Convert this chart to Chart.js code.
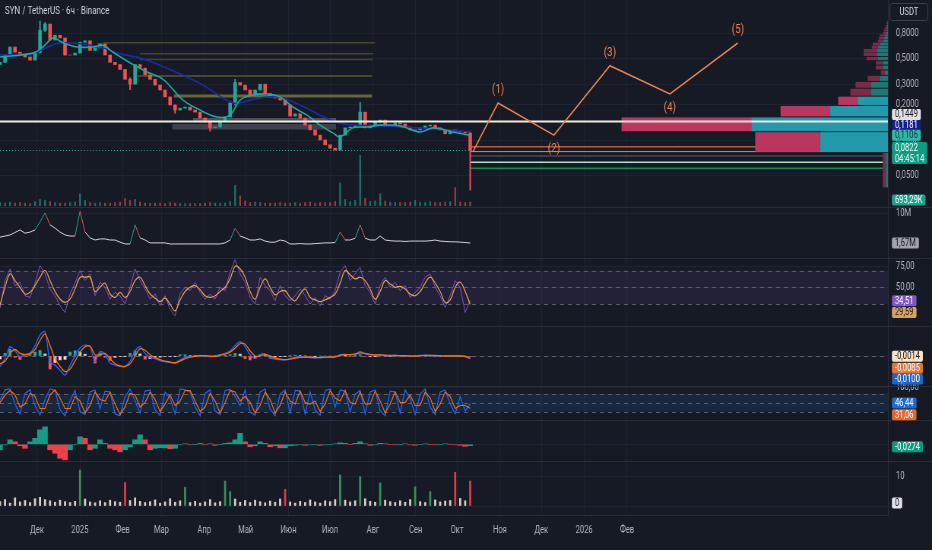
<!DOCTYPE html>
<html>
<head>
<meta charset="utf-8">
<title>SYN / TetherUS</title>
<script src="https://cdn.jsdelivr.net/npm/chart.js@4.4.1/dist/chart.umd.min.js"></script>
<style>
  html, body { margin: 0; padding: 0; background: #161a25; overflow: hidden; }
  #chart { display: block; }
</style>
</head>
<body>
<canvas id="chart" width="1226" height="550" style="width:932px;height:550px"></canvas>
<script>
// SYN / TetherUS, 6h, Binance. One sample every ~3.6 days.
// x values are days counted from 1 Dec 2024.
const monthDays = [0, 31, 62, 90, 121, 151, 182, 212, 243, 274, 304, 335, 365, 396, 427];
const monthLabels = ['Дек', '2025', 'Фев', 'Мар', 'Апр', 'Май', 'Июн', 'Июл', 'Авг', 'Сен', 'Окт', 'Ноя', 'Дек', '2026', 'Фев'];
const priceTicks = [0.05, 0.1, 0.2, 0.3, 0.5, 0.8];

const firstOpen = 0.44;
const closes = [
  0.46, 0.53, 0.62, 0.56, 0.53, 0.51, 0.48, 0.56, 0.86, 0.97,
  0.71, 0.78, 0.74, 0.53, 0.53, 0.55, 0.68, 0.70, 0.58, 0.61,
  0.66, 0.53, 0.46, 0.44, 0.40, 0.33, 0.30, 0.44, 0.41, 0.36,
  0.33, 0.295, 0.268, 0.234, 0.20, 0.181, 0.188, 0.192, 0.181, 0.174,
  0.155, 0.143, 0.128, 0.130, 0.146, 0.158, 0.208, 0.31, 0.295, 0.268,
  0.243, 0.268, 0.30, 0.25, 0.234, 0.229, 0.22, 0.20, 0.161, 0.168,
  0.155, 0.135, 0.123, 0.111, 0.101, 0.092, 0.086, 0.083, 0.111, 0.128,
  0.130, 0.135, 0.174, 0.128, 0.135, 0.143, 0.149, 0.135, 0.135, 0.141,
  0.138, 0.130, 0.123, 0.123, 0.128, 0.133, 0.135, 0.128, 0.123, 0.114,
  0.123, 0.120, 0.118, 0.116, 0.0822
];
// wicks only where they stand out
const wickIdx = [8, 9, 26, 35, 42, 47, 72, 94];
const wickLow = [0.55, 0.84, 0.27, 0.17, 0.12, 0.20, 0.13, 0.038];
const wickHigh = [1.03, 1.00, 0.34, 0.20, 0.145, 0.33, 0.21, 0.118];

const volumes = [ // M
  0.6, 0.5, 0.7, 0.5, 0.6, 0.5, 0.4, 0.8, 1.2, 1.0,
  0.8, 0.6, 0.5, 0.5, 0.6, 0.7, 2.3, 1.0, 0.6, 0.5,
  0.6, 0.5, 0.5, 0.6, 0.7, 1.4, 1.0, 1.2, 0.7, 0.5,
  0.5, 0.5, 0.5, 0.4, 0.6, 0.5, 0.4, 0.4, 0.4, 0.4,
  0.4, 0.5, 0.6, 0.5, 0.5, 0.5, 0.8, 3.9, 1.9, 0.9,
  0.6, 0.7, 0.6, 0.5, 0.5, 0.5, 0.6, 0.5, 0.5, 0.6,
  0.5, 0.6, 0.7, 0.5, 0.6, 0.6, 0.6, 0.8, 4.4, 1.2,
  0.8, 1.0, 9.7, 1.4, 0.8, 0.9, 2.3, 0.9, 0.7, 0.6,
  0.6, 0.6, 0.7, 1.0, 0.7, 0.6, 0.8, 0.6, 0.6, 0.7,
  0.8, 3.5, 0.7, 0.6, 0.69329
];

const tealDays = [-26.8, -2.9, 4.3, 11.6, 18.1, 28.9, 40.5, 47.8, 55.0, 69.5, 79.6, 91.2, 105.7, 117.9, 130.2, 139.7, 146.9,
  156.3, 166.4, 175.8, 185.2, 195.4, 204.8, 214.2, 219.3, 228.7, 238.8, 248.2, 262.7, 277.1, 286.5, 301.0, 313.3];
const tealVals = [0.51, 0.55, 0.62, 0.74, 0.68, 0.62, 0.62, 0.64, 0.56, 0.44, 0.38, 0.33, 0.22, 0.181, 0.158, 0.164, 0.22,
  0.243, 0.248, 0.234, 0.192, 0.164, 0.135, 0.116, 0.107, 0.128, 0.130, 0.135, 0.133, 0.118, 0.128, 0.118, 0.1106];
const blueDays = [-26.8, -2.9, 16.6, 45.6, 57.9, 74.5, 94.1, 117.9, 141.9, 154.1, 166.4, 178.0, 190.3, 204.8, 217.1, 228.7,
  250.4, 275.0, 298.8, 314.8];
const blueVals = [0.53, 0.55, 0.67, 0.62, 0.55, 0.50, 0.41, 0.305, 0.208, 0.22, 0.234, 0.229, 0.20, 0.164, 0.143, 0.135,
  0.133, 0.128, 0.123, 0.1181];

const keyLevel = 0.1449;
const targetLevels = [0.0886, 0.0805, 0.0739, 0.0653, 0.0581];
const oliveLevels = [0.674, 0.544, 0.487, 0.352, 0.238];
const oliveFrom = [47.8, 74.5, 74.5, 72.4, 99.1];
const oliveTo = [244.6, 243.0, 243.0, 242.4, 242.4];
const zoneHigh = [0.155, 0.138];
const zoneLow = [0.143, 0.124];
const zoneFrom = [112.9, 97.7];
const zoneTo = [216.4, 216.4];

const waveDays = [315.5, 333.6, 374.1, 414.6, 458.0, 507.2];
const wavePrices = [0.0805, 0.208, 0.111, 0.43, 0.248, 0.67];
const waveLabels = ['', '(1)', '(2)', '(3)', '(4)', '(5)'];

// volume profile, bins of 0.04 USDT from 0.04 up
const vpStart = 0.04;
const vpStep = 0.04;
const vpUp = [2, 67, 135, 57, 30, 17, 17, 8, 3, 5, 5, 10, 11, 11, 10, 8, 5, 4, 3, 2, 1, 1, 1, 0.5, 0.5];
const vpDown = [3, 64, 128, 49, 19, 20, 15, 12, 4, 7, 7, 11, 13, 13, 6, 7, 5, 5, 5, 3, 3, 2, 1, 1, 0.5];
const vpValueLow = 0.08;
const vpValueHigh = 0.24;

const flow = [ // M
  3.3, 3.6, 3.9, 4.6, 5.3, 4.4, 4.7, 5.3, 7.5, 10.0,
  6.7, 5.8, 4.7, 3.9, 3.6, 3.6, 10.5, 4.7, 3.1, 2.5,
  2.8, 2.8, 2.5, 2.5, 1.9, 1.4, 1.4, 6.7, 3.1, 2.5,
  1.7, 1.7, 1.7, 1.7, 1.4, 1.4, 1.4, 1.4, 1.4, 1.4,
  1.4, 1.4, 1.4, 1.4, 1.4, 1.7, 2.5, 5.8, 3.6, 3.1,
  2.5, 2.5, 2.8, 2.2, 1.9, 1.9, 2.5, 2.2, 1.4, 1.4,
  1.5, 1.4, 1.4, 1.5, 1.6, 1.7, 1.7, 1.8, 4.7, 2.5,
  2.5, 3.0, 6.7, 3.0, 2.5, 2.5, 3.6, 2.5, 2.3, 2.2,
  2.2, 2.1, 2.2, 2.2, 2.2, 2.2, 2.3, 2.5, 2.2, 2.1,
  2.0, 2.0, 1.9, 1.8, 1.67
];

const rsi = [
  25, 58, 72, 52, 56, 40, 38, 55, 76, 66,
  48, 40, 28, 20, 42, 55, 70, 58, 66, 40,
  56, 50, 36, 44, 40, 30, 50, 72, 58, 48,
  36, 42, 28, 40, 24, 16, 42, 50, 46, 56,
  44, 36, 42, 36, 50, 46, 68, 83, 66, 56,
  38, 30, 62, 52, 46, 34, 52, 40, 34, 40,
  48, 40, 30, 38, 28, 40, 36, 46, 68, 76,
  58, 66, 74, 52, 44, 30, 52, 62, 50, 56,
  46, 52, 38, 44, 50, 62, 66, 50, 40, 26,
  40, 58, 50, 20, 34.51
];
const rsiMa = [
  29, 50, 66, 58, 50, 42, 44, 52, 62, 70,
  58, 45, 36, 32, 36, 48, 62, 62, 62, 45,
  50, 55, 42, 38, 44, 38, 45, 58, 62, 52,
  42, 37, 33, 37, 30, 22, 35, 45, 50, 52,
  47, 40, 38, 40, 45, 50, 60, 75, 72, 62,
  45, 36, 50, 60, 50, 41, 45, 46, 38, 34,
  42, 48, 38, 35, 33, 35, 38, 42, 55, 70,
  65, 60, 62, 58, 48, 36, 45, 58, 54, 50,
  51, 48, 42, 40, 45, 55, 62, 55, 45, 32,
  35, 50, 56, 45, 29.59
];

const macd = [
  -0.041, -0.010, 0.036, 0.020, -0.003, 0.005, 0.012, 0.040, 0.081, 0.093,
  -0.022, -0.035, -0.055, -0.073, -0.035, 0.000, 0.031, 0.042, 0.035, -0.022,
  0.017, 0.005, -0.027, -0.035, -0.040, -0.041, -0.020, 0.020, 0.036, 0.010,
  -0.005, -0.010, -0.018, -0.022, -0.025, -0.027, -0.015, -0.005, -0.002, 0.000,
  0.002, 0.000, -0.002, 0.000, 0.005, 0.010, 0.020, 0.040, 0.055, 0.035,
  0.005, -0.008, 0.005, 0.008, -0.008, -0.012, -0.014, -0.015, -0.010, -0.005,
  -0.003, -0.004, -0.006, -0.007, -0.006, -0.005, -0.004, -0.003, 0.005, 0.006,
  0.005, 0.008, 0.017, 0.008, 0.004, 0.003, 0.004, 0.002, 0.001, 0.002,
  0.001, 0.000, -0.001, 0.000, 0.002, 0.003, 0.002, 0.001, 0.000, -0.001,
  0.000, 0.001, 0.000, -0.002, -0.0100
];
const macdSignal = [
  -0.030, -0.020, 0.010, 0.025, 0.010, 0.005, 0.008, 0.025, 0.060, 0.085,
  0.040, -0.010, -0.040, -0.060, -0.050, -0.020, 0.015, 0.035, 0.038, 0.005,
  0.005, 0.010, -0.010, -0.030, -0.038, -0.040, -0.030, 0.000, 0.028, 0.022,
  0.005, -0.006, -0.014, -0.020, -0.023, -0.026, -0.020, -0.010, -0.004, -0.001,
  0.001, 0.001, -0.001, -0.001, 0.003, 0.007, 0.015, 0.030, 0.048, 0.045,
  0.020, 0.000, 0.000, 0.006, 0.000, -0.008, -0.012, -0.014, -0.012, -0.008,
  -0.005, -0.004, -0.005, -0.006, -0.006, -0.005, -0.004, -0.003, 0.002, 0.005,
  0.005, 0.007, 0.012, 0.010, 0.006, 0.004, 0.004, 0.003, 0.002, 0.002,
  0.001, 0.001, 0.000, 0.000, 0.001, 0.002, 0.002, 0.002, 0.001, 0.000,
  0.000, 0.000, 0.000, -0.001, -0.0085
];
const macdHist = [
  -0.011, 0.010, 0.026, -0.005, -0.013, 0.000, 0.004, 0.015, 0.021, 0.008,
  -0.050, -0.025, -0.015, -0.013, 0.015, 0.020, 0.016, 0.007, -0.003, -0.027,
  0.012, -0.005, -0.017, -0.005, -0.002, -0.001, 0.010, 0.020, 0.008, -0.012,
  -0.010, -0.004, -0.004, -0.002, -0.002, -0.001, 0.005, 0.005, 0.002, 0.001,
  0.001, -0.001, -0.001, 0.001, 0.002, 0.003, 0.005, 0.010, 0.007, -0.010,
  -0.015, -0.008, 0.005, 0.002, -0.008, -0.004, -0.002, -0.001, 0.002, 0.003,
  0.002, 0.000, -0.001, -0.001, 0.000, 0.000, 0.000, 0.000, 0.003, 0.001,
  0.000, 0.001, 0.005, -0.002, -0.002, -0.001, 0.000, -0.001, -0.001, 0.000,
  0.000, -0.001, -0.001, 0.000, 0.001, 0.001, 0.000, -0.001, -0.001, -0.001,
  0.000, 0.001, 0.000, -0.001, -0.0014
];

const stochK = [
  60, 92, 95, 45, 12, 80, 92, 40, 8, 60,
  95, 90, 25, 6, 55, 90, 20, 10, 85, 92,
  30, 88, 85, 12, 6, 70, 95, 55, 15, 88,
  92, 25, 8, 85, 65, 12, 95, 92, 85, 35,
  6, 80, 92, 22, 10, 90, 94, 70, 40, 92,
  18, 8, 85, 95, 28, 6, 78, 92, 15, 90,
  88, 12, 85, 25, 8, 90, 95, 35, 92, 88,
  18, 78, 90, 12, 85, 92, 22, 6, 88, 85,
  15, 92, 62, 10, 78, 95, 35, 10, 85, 92,
  45, 12, 70, 22, 46.44
];
const stochD = [
  50, 75, 90, 75, 35, 45, 80, 70, 30, 30,
  75, 92, 65, 30, 30, 70, 55, 15, 40, 85,
  60, 55, 85, 45, 10, 35, 80, 75, 35, 50,
  85, 60, 20, 45, 75, 40, 55, 90, 90, 55,
  20, 35, 80, 55, 15, 50, 90, 85, 55, 70,
  50, 15, 40, 85, 60, 15, 40, 85, 55, 45,
  88, 50, 45, 55, 20, 45, 90, 65, 55, 90,
  50, 45, 85, 45, 45, 88, 55, 15, 45, 85,
  50, 50, 75, 40, 40, 85, 65, 20, 45, 85,
  70, 30, 40, 40, 31.06
];

const momentum = [
  -0.11, -0.01, 0.09, 0.05, -0.03, -0.08, 0.05, 0.12, 0.29, 0.35,
  -0.11, -0.18, -0.28, -0.31, -0.11, -0.01, 0.15, 0.12, -0.11, -0.08,
  0.09, 0.02, -0.08, -0.11, -0.15, -0.11, -0.05, 0.09, 0.19, 0.09,
  -0.11, -0.08, -0.07, -0.07, -0.09, -0.08, -0.01, 0.01, -0.01, 0.00,
  0.02, -0.01, 0.01, -0.02, 0.00, 0.02, 0.03, 0.09, 0.22, 0.05,
  -0.05, -0.03, 0.05, 0.02, -0.05, -0.03, -0.07, -0.07, -0.03, -0.02,
  -0.01, -0.02, -0.01, 0.00, -0.02, -0.01, 0.00, 0.01, 0.03, 0.02,
  0.00, 0.02, 0.05, 0.01, -0.02, -0.01, 0.02, 0.01, 0.00, -0.01,
  0.00, 0.01, -0.01, -0.02, 0.00, 0.01, 0.00, -0.01, 0.00, 0.01,
  0.00, -0.01, -0.02, -0.04, -0.0274
];

const delta = [
  1.5, 2.2, 1.0, 2.8, 1.4, 1.9, 1.2, 2.5, 3.0, 2.2,
  1.8, 1.3, 2.0, 1.5, 1.2, 1.6, 12.4, 2.4, 1.4, 1.1,
  1.8, 1.2, 2.0, 1.5, 1.3, 8.1, 1.9, 2.8, 1.6, 1.2,
  1.5, 2.1, 1.0, 1.4, 2.5, 1.3, 1.8, 6.4, 1.2, 1.6,
  1.0, 1.4, 2.2, 1.1, 1.5, 8.6, 5.0, 2.4, 1.3, 1.9,
  1.2, 2.0, 1.5, 1.1, 1.7, 1.3, 2.4, 5.7, 1.4, 1.0,
  1.6, 1.2, 2.1, 1.4, 1.0, 1.8, 1.5, 2.2, 10.7, 2.0,
  1.4, 1.8, 10.1, 2.5, 1.6, 1.3, 7.9, 2.0, 1.5, 1.2,
  1.8, 1.3, 2.2, 6.6, 1.5, 1.2, 5.0, 2.1, 1.4, 1.7,
  1.9, 11.6, 2.6, 1.8, 8.6
];

// ---- layout / style ----
const SQUEEZE = 932 / 1226; // the reference is squashed horizontally, so draw wide and let CSS narrow it
const px = v => v / SQUEEZE;
const FAMILY = "Roboto, 'Noto Sans', 'DejaVu Sans', sans-serif";
const BG = '#161a25';
const GRID = '#1f2331';
const SEP = '#2a2e39';
const TEXT = '#b2b5be';
const UP = '#26a69a';
const DOWN = '#ef5350';
const WAVE = '#ef8354';
const KEY_LABEL = 'Уровень';

const T0 = -26.8;
const STEP = 3.62;
const X_MAX = 615.8;
const dayAt = i => T0 + i * STEP;
const onGrid = arr => arr.map((y, i) => ({x: dayAt(i), y}));
const pairUp = (xs, ys) => xs.map((x, i) => ({x, y: ys[i]}));
const last = closes.length - 1;
const lastDay = dayAt(last);
const fmtNum = (v, d) => v.toFixed(d).replace('.', ',');

const opens = closes.map((c, i) => i ? closes[i - 1] : firstOpen);
const isUp = closes.map((c, i) => c >= opens[i]);

function flat(label, from, to, value, color, width, order, extra) {
  return Object.assign({
    label, type: 'line', yAxisID: 'yPrice',
    data: [{x: from, y: value}, {x: to, y: value}],
    borderColor: color, borderWidth: width, pointRadius: 0, order
  }, extra || {});
}

const datasets = [];

// zones and old levels
zoneHigh.forEach((h, i) => datasets.push(flat('zone', zoneFrom[i], zoneTo[i], h, 'rgba(0,0,0,0)', 0, 9,
  {fill: {value: zoneLow[i]}, backgroundColor: i ? '#3d414d' : '#4a4e5a'})));
const oliveColors = ['#47452f', '#45442f', '#45442f', '#5a5834', '#67653a'];
const oliveWidths = [1.5, 1.5, 1.5, 1.5, 3];
oliveLevels.forEach((v, i) => datasets.push(flat('olive', oliveFrom[i], oliveTo[i], v, oliveColors[i], oliveWidths[i], 9)));

// targets to the right of the last candle
const targetColors = ['#b85d3a', '#e8895a', '#3a3e4a', '#a6e3c4', '#1e8a4c'];
const targetWidths = [1.5, 1, 2, 1.5, 1.5];
targetLevels.forEach((v, i) => datasets.push(flat('target', lastDay, X_MAX, v, targetColors[i], targetWidths[i], 8)));
datasets.push(flat('last', T0, lastDay, closes[last], UP, 1, 8, {borderDash: [px(1), px(2)]}));

datasets.push({
  label: 'volume', type: 'bar', yAxisID: 'yVol', data: onGrid(volumes),
  backgroundColor: isUp.map(u => u ? 'rgba(38,166,154,0.6)' : 'rgba(239,83,80,0.6)'),
  barThickness: px(1.3), grouped: false, order: 7
});
datasets.push({
  label: 'wicks', type: 'bar', yAxisID: 'yPrice',
  data: wickIdx.map((k, i) => ({x: dayAt(k), y: [wickLow[i], wickHigh[i]]})),
  backgroundColor: wickIdx.map(k => isUp[k] ? UP : DOWN),
  barThickness: 1.3, grouped: false, order: 6
});
datasets.push({
  label: 'candles', type: 'bar', yAxisID: 'yPrice',
  data: closes.map((c, i) => ({x: dayAt(i), y: [opens[i], c]})),
  backgroundColor: isUp.map(u => u ? UP : DOWN),
  barThickness: px(3), grouped: false, order: 5
});
datasets.push({label: 'ema', type: 'line', yAxisID: 'yPrice', data: pairUp(tealDays, tealVals),
  borderColor: '#22a99c', borderWidth: 1.6, pointRadius: 0, tension: 0.35, order: 4});
datasets.push({label: 'ma', type: 'line', yAxisID: 'yPrice', data: pairUp(blueDays, blueVals),
  borderColor: '#1b2bb0', borderWidth: 1.6, pointRadius: 0, tension: 0.35, order: 4});
datasets.push(flat(KEY_LABEL, T0, X_MAX, keyLevel, '#efece4', 2, 2));
datasets.push({label: 'wave', type: 'line', yAxisID: 'yPrice', data: pairUp(waveDays, wavePrices),
  borderColor: WAVE, borderWidth: 1.6, pointRadius: 0, order: 1});

// lower panes
datasets.push({label: 'flow', type: 'line', yAxisID: 'yFlow', data: onGrid(flow),
  borderColor: '#d6d6d6', borderWidth: 1, pointRadius: 0, order: 3,
  segment: {borderColor: c => c.p1.parsed.y - c.p0.parsed.y > 2 ? '#26a69a'
    : (c.p0.parsed.y - c.p1.parsed.y > 2 ? '#ef5350' : undefined)}});
datasets.push({label: 'rsi', type: 'line', yAxisID: 'yRsi', data: onGrid(rsi),
  borderColor: '#7e57c2', borderWidth: 1, pointRadius: 0, order: 3});
datasets.push({label: 'rsiMa', type: 'line', yAxisID: 'yRsi', data: onGrid(rsiMa),
  borderColor: '#e9a24c', borderWidth: 1.2, pointRadius: 0, tension: 0.4, order: 2});
datasets.push({label: 'macdHist', type: 'bar', yAxisID: 'yMacd', data: onGrid(macdHist),
  backgroundColor: macdHist.map((v, i) => {
    const up = i === 0 || v >= macdHist[i - 1];
    return v >= 0 ? (up ? '#26a69a' : '#b2dfdb') : (up ? '#ffcdd2' : '#ff5252');
  }),
  barThickness: px(2.5), grouped: false, order: 4});
datasets.push({label: 'macd', type: 'line', yAxisID: 'yMacd', data: onGrid(macd),
  borderColor: '#2962ff', borderWidth: 1.3, pointRadius: 0, tension: 0.3, order: 3});
datasets.push({label: 'signal', type: 'line', yAxisID: 'yMacd', data: onGrid(macdSignal),
  borderColor: '#ff6d00', borderWidth: 1.3, pointRadius: 0, tension: 0.3, order: 2});
datasets.push({label: 'k', type: 'line', yAxisID: 'yStoch', data: onGrid(stochK),
  borderColor: '#2962ff', borderWidth: 1.2, pointRadius: 0, order: 3});
datasets.push({label: 'd', type: 'line', yAxisID: 'yStoch', data: onGrid(stochD),
  borderColor: '#ff6d00', borderWidth: 1.2, pointRadius: 0, order: 2});
datasets.push({label: 'momentum', type: 'bar', yAxisID: 'yMom', data: onGrid(momentum),
  backgroundColor: momentum.map((v, i) => (i === 0 || v >= momentum[i - 1]) ? '#149c84' : '#e8424c'),
  barThickness: px(5), grouped: false, order: 3});
datasets.push({label: 'delta', type: 'bar', yAxisID: 'yDelta', data: onGrid(delta),
  backgroundColor: delta.map((v, i) => v > 4 ? (isUp[i] ? '#3a8f5f' : '#e53945') : '#d8d2c4'),
  barThickness: px(1.6), grouped: false, order: 3});

// ---- axes ----
const AXIS_W = Math.round(px(44));
function paneAxis(weight, min, max, ticks, format, extra) {
  return Object.assign({
    type: 'linear', position: 'right', stack: 'panes', stackWeight: weight,
    min, max, bounds: 'data',
    afterBuildTicks: s => { s.ticks = ticks.map(value => ({value})); },
    afterFit: s => { s.width = AXIS_W; s.paddingTop = 0; s.paddingBottom = 0; },
    grid: {color: GRID, drawTicks: false},
    border: {color: SEP},
    ticks: {color: TEXT, font: {family: FAMILY, size: 10}, padding: px(8), callback: format}
  }, extra || {});
}

function drawProfile(chart) {
  const {ctx, chartArea, scales} = chart;
  const totals = vpUp.map((u, i) => u + vpDown[i]);
  const full = chartArea.width * 0.3;
  const maxTotal = Math.max(...totals);
  ctx.save();
  vpUp.forEach((u, i) => {
    const lo = vpStart + i * vpStep;
    const hi = lo + vpStep;
    const yTop = scales.yPrice.getPixelForValue(hi);
    const yBot = scales.yPrice.getPixelForValue(lo);
    const gap = yBot - yTop > 4 ? 1 : 0.3;
    const wUp = u / maxTotal * full;
    const wDown = vpDown[i] / maxTotal * full;
    const inside = lo >= vpValueLow - 1e-9 && hi <= vpValueHigh + 1e-9;
    ctx.fillStyle = inside ? '#2399ab' : '#1c7a76';
    ctx.fillRect(chartArea.right - wUp, yTop + gap, wUp, yBot - yTop - gap);
    ctx.fillStyle = inside ? '#b9375f' : '#7d2a49';
    ctx.fillRect(chartArea.right - wUp - wDown, yTop + gap, wDown, yBot - yTop - gap);
  });
  ctx.restore();
}

const tags = [
  {axis: 'yPrice', value: keyLevel, text: fmtNum(keyLevel, 4), bg: '#e2e2e2', fg: '#131722', dy: -7},
  {axis: 'yPrice', value: blueVals[blueVals.length - 1], text: fmtNum(blueVals[blueVals.length - 1], 4), bg: '#131f8a', fg: '#ffffff', dy: -6.5},
  {axis: 'yPrice', value: tealVals[tealVals.length - 1], text: fmtNum(tealVals[tealVals.length - 1], 4), bg: '#2fb8aa', fg: '#0b3a36', dy: 0},
  {axis: 'yPrice', value: closes[last], text: fmtNum(closes[last], 4), text2: '04:45:14', bg: '#0e9c85', fg: '#ffffff', dy: 2.5},
  {axis: 'yVol', value: volumes[last], text: fmtNum(volumes[last] * 1000, 2) + 'K', bg: '#1fa08e', fg: '#ffffff', dy: -2},
  {axis: 'yFlow', value: flow[last], text: fmtNum(flow[last], 2) + 'M', bg: '#a0a3ab', fg: '#131722', dy: 0},
  {axis: 'yRsi', value: rsi[last], text: fmtNum(rsi[last], 2), bg: '#7e57c2', fg: '#ffffff', dy: 0.5},
  {axis: 'yRsi', value: rsiMa[last], text: fmtNum(rsiMa[last], 2), bg: '#d9a064', fg: '#2b1a08', dy: 8},
  {axis: 'yMacd', value: macdHist[last], text: fmtNum(macdHist[last], 4), bg: '#fce3c4', fg: '#131722', dy: 0},
  {axis: 'yMacd', value: macdSignal[last], text: fmtNum(macdSignal[last], 4), bg: '#e8743b', fg: '#ffffff', dy: 10},
  {axis: 'yMacd', value: macd[last], text: fmtNum(macd[last], 4), bg: '#1f65c4', fg: '#ffffff', dy: 20.5},
  {axis: 'yStoch', value: stochK[last], text: fmtNum(stochK[last], 2), bg: '#1f6cc6', fg: '#ffffff', dy: -0.5},
  {axis: 'yStoch', value: stochD[last], text: fmtNum(stochD[last], 2), bg: '#e3672f', fg: '#ffffff', dy: 6.5},
  {axis: 'yMom', value: momentum[last], text: fmtNum(momentum[last], 4), bg: '#0c9a7e', fg: '#ffffff', dy: 1},
  {axis: 'yDelta', value: 0, text: '0', bg: '#e0e3eb', fg: '#131722', dy: -3}
];

const paneDecor = {
  id: 'paneDecor',
  beforeDraw(chart) {
    const {ctx} = chart;
    ctx.save();
    ctx.fillStyle = BG;
    ctx.fillRect(0, 0, chart.width, chart.height);
    ctx.restore();
  },
  beforeDatasetsDraw(chart) {
    const {ctx, chartArea, scales} = chart;
    const band = (scale, lo, hi, color) => {
      const y1 = scale.getPixelForValue(hi);
      const y2 = scale.getPixelForValue(lo);
      ctx.fillStyle = color;
      ctx.fillRect(chartArea.left, y1, chartArea.width, y2 - y1);
    };
    const dashed = (scale, values) => {
      ctx.strokeStyle = '#5d606b';
      ctx.lineWidth = 1;
      ctx.setLineDash([px(4), px(4)]);
      values.forEach(v => {
        const y = Math.round(scale.getPixelForValue(v)) + 0.5;
        ctx.beginPath();
        ctx.moveTo(chartArea.left, y);
        ctx.lineTo(chartArea.right, y);
        ctx.stroke();
      });
      ctx.setLineDash([]);
    };
    ctx.save();
    band(scales.yRsi, 30, 70, 'rgba(126,87,194,0.12)');
    dashed(scales.yRsi, [70, 50, 30]);
    band(scales.yStoch, 20, 80, 'rgba(33,150,243,0.12)');
    dashed(scales.yStoch, [80, 50, 20]);
    dashed(scales.yMacd, [0]);
    ctx.restore();
  },
  beforeDatasetDraw(chart, args) {
    if (chart.data.datasets[args.index].label === KEY_LABEL) drawProfile(chart);
  },
  afterDraw(chart) {
    const {ctx, scales} = chart;
    ctx.save();

    ctx.strokeStyle = SEP;
    ctx.lineWidth = 1;
    ['yPrice', 'yFlow', 'yRsi', 'yMacd', 'yStoch', 'yMom'].forEach(id => {
      const y = Math.round(scales[id].bottom) + 0.5;
      ctx.beginPath();
      ctx.moveTo(0, y);
      ctx.lineTo(chart.width, y);
      ctx.stroke();
    });

    // wave numbers
    ctx.font = `13px ${FAMILY}`;
    ctx.fillStyle = WAVE;
    ctx.textAlign = 'center';
    ctx.textBaseline = 'middle';
    waveLabels.forEach((t, i) => {
      if (!t) return;
      const x = scales.x.getPixelForValue(waveDays[i]);
      const y = scales.yPrice.getPixelForValue(wavePrices[i]) + (i % 2 ? -13 : 14);
      ctx.fillText(t, x, y);
    });

    // title
    ctx.font = `10.5px ${FAMILY}`;
    ctx.fillStyle = '#d1d4dc';
    ctx.textAlign = 'left';
    ctx.fillText('SYN / TetherUS · 6ч · Binance', px(5), 11);

    // currency box
    const ax = scales.yPrice.left;
    ctx.fillStyle = BG;
    ctx.strokeStyle = '#3b3f4b';
    ctx.beginPath();
    ctx.roundRect(ax + px(2), 3.5, px(38), 17, 3);
    ctx.fill();
    ctx.stroke();
    ctx.font = `10px ${FAMILY}`;
    ctx.fillStyle = '#d1d4dc';
    ctx.textAlign = 'center';
    ctx.fillText('USDT', ax + px(21), 12.5);

    // last-value tags on the axis
    ctx.textAlign = 'left';
    tags.forEach(t => {
      const lines = t.text2 ? [t.text, t.text2] : [t.text];
      const w = Math.max(...lines.map(s => ctx.measureText(s).width)) + px(6);
      const h = 11 * lines.length;
      const y = scales[t.axis].getPixelForValue(t.value) + t.dy;
      ctx.fillStyle = t.bg;
      ctx.beginPath();
      ctx.roundRect(ax + px(4), y - h / 2, w, h, 2);
      ctx.fill();
      ctx.fillStyle = t.fg;
      lines.forEach((s, k) => ctx.fillText(s, ax + px(7), y - h / 2 + 6 + 11 * k));
    });
    ctx.restore();
  }
};

Chart.defaults.font.family = FAMILY;

new Chart(document.getElementById('chart'), {
  type: 'line',
  data: {datasets},
  options: {
    responsive: false,
    devicePixelRatio: 1,
    animation: false,
    events: [],
    layout: {padding: 0},
    plugins: {legend: {display: false}, tooltip: {enabled: false}, title: {display: false}},
    scales: {
      x: {
        type: 'linear', min: T0, max: X_MAX, bounds: 'data', offset: false,
        afterBuildTicks: s => { s.ticks = monthDays.map(value => ({value})); },
        afterFit: s => { s.height = 35; s.paddingLeft = 0; s.paddingRight = 0; },
        grid: {color: GRID, drawTicks: false, offset: false},
        border: {color: SEP},
        ticks: {color: TEXT, font: {family: FAMILY, size: 10}, padding: 9, maxRotation: 0, autoSkip: false,
          callback: v => monthLabels[monthDays.indexOf(v)] ?? ''}
      },
      yPrice: paneAxis(207, 0.0273, 1.552, priceTicks, v => fmtNum(v, 4), {type: 'logarithmic'}),
      yFlow: paneAxis(51, -2.5, 11.67, [10], v => v + 'M'),
      yRsi: paneAxis(68, 3.9, 84.9, [50, 75], v => fmtNum(v, 2)),
      yMacd: paneAxis(60, -0.1154, 0.1154, [0], () => ''),
      yStoch: paneAxis(34, -8.3, 105, [100], v => fmtNum(v, 2)),
      yMom: paneAxis(41, -0.334, 0.486, [0], () => ''),
      yDelta: paneAxis(54, -3.1, 15.5, [0, 10], v => v ? String(v) : ''),
      yVol: {type: 'linear', position: 'left', display: false, min: -59.7, max: 39.7}
    }
  },
  plugins: [paneDecor]
});
</script>
</body>
</html>
